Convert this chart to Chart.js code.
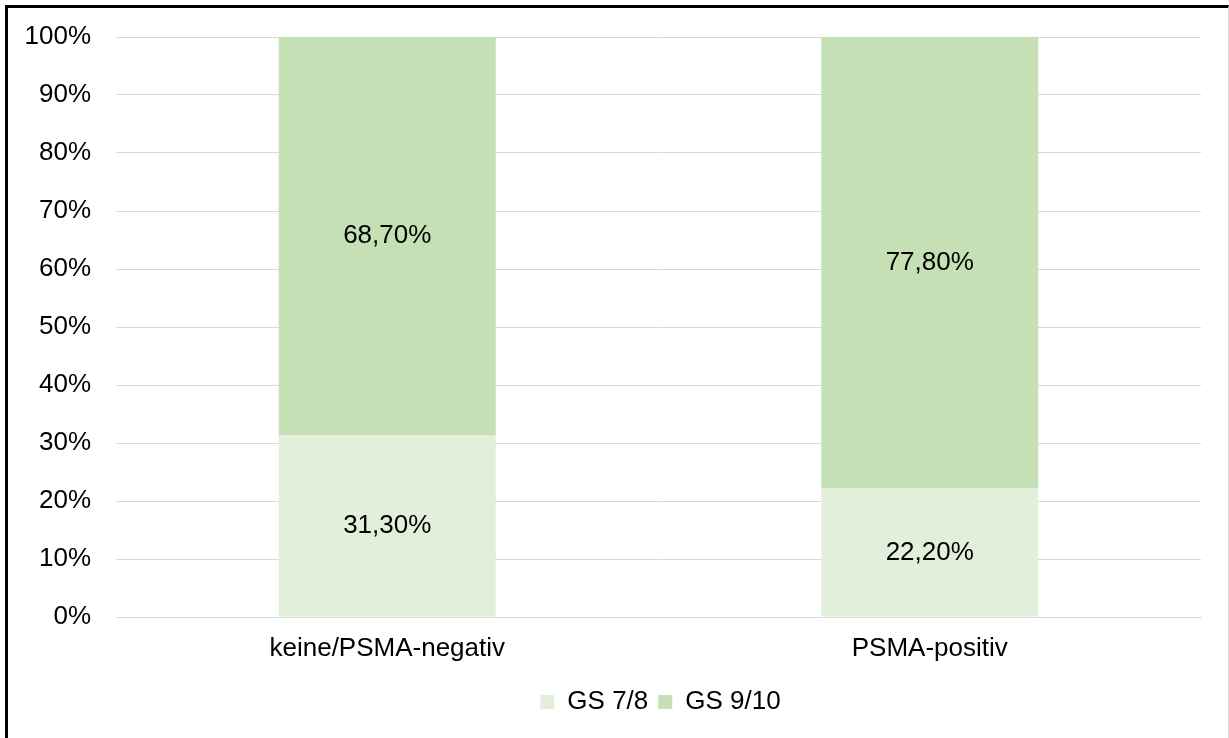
<!DOCTYPE html>
<html>
<head>
<meta charset="utf-8">
<script src="https://cdn.jsdelivr.net/npm/chart.js@4/dist/chart.umd.min.js"></script>
<style>
  html, body { margin: 0; padding: 0; background: #ffffff; }
  #wrap { position: relative; width: 1229px; height: 738px; overflow: hidden; }
  #frame { position: absolute; left: 5px; top: 5px; width: 1220px; height: 760px;
           border-left: 3px solid #000; border-top: 3px solid #000; border-right: 1px solid #d9d9d9;
           pointer-events: none; box-sizing: content-box; }
  canvas { position: absolute; left: 0; top: 0; }
</style>
</head>
<body>
<div id="wrap">
  <canvas id="c" width="1229" height="738"></canvas>
  <div id="frame"></div>
</div>
<script>
const categories = ["keine/PSMA-negativ", "PSMA-positiv"];
const seriesNames = ["GS 7/8", "GS 9/10"];
const gs78 = [31.3, 22.2];
const gs910 = [68.7, 77.8];
const yTicks = [0, 10, 20, 30, 40, 50, 60, 70, 80, 90, 100];

const FONT = { family: "'Liberation Sans', Arial, sans-serif", size: 26 };

const dataLabels = {
  id: 'dataLabels',
  afterDatasetsDraw(chart) {
    const ctx = chart.ctx;
    ctx.save();
    ctx.font = "26px 'Liberation Sans', Arial, sans-serif";
    ctx.fillStyle = '#000000';
    ctx.textAlign = 'center';
    ctx.textBaseline = 'middle';
    chart.data.datasets.forEach((ds, di) => {
      const meta = chart.getDatasetMeta(di);
      meta.data.forEach((el, i) => {
        const v = ds.data[i];
        const txt = v.toFixed(2).replace('.', ',') + '%';
        ctx.fillText(txt, el.x, (el.y + el.base) / 2);
      });
    });
    ctx.restore();
  }
};

// center the legend under the plot area rather than the whole canvas
const legendShift = {
  id: 'legendShift',
  afterLayout(chart) {
    if (chart.legend) { chart.legend.left = 120; }
  }
};

new Chart(document.getElementById('c'), {
  type: 'bar',
  data: {
    labels: categories,
    datasets: [
      { label: seriesNames[0], data: gs78, backgroundColor: '#E2EFDA', borderWidth: 0 },
      { label: seriesNames[1], data: gs910, backgroundColor: '#C5E0B4', borderWidth: 0 }
    ]
  },
  options: {
    responsive: false,
    animation: false,
    devicePixelRatio: 1,
    categoryPercentage: 1.0,
    barPercentage: 0.4,
    layout: { padding: { top: 37, right: 28, bottom: 13, left: 0 } },
    plugins: {
      legend: {
        position: 'bottom',
        labels: {
          font: FONT, color: '#000000', boxWidth: 14, boxHeight: 14, padding: 10
        }
      },
      tooltip: { enabled: false }
    },
    scales: {
      x: {
        stacked: true,
        grid: { display: false, drawTicks: false },
        border: { display: true, color: '#d9d9d9', width: 1 },
        ticks: { font: FONT, color: '#000000', padding: 16 },
        afterFit(axis) { axis.height = 62; }
      },
      y: {
        stacked: true,
        min: 0, max: 100,
        afterBuildTicks(axis) { axis.ticks = yTicks.map(v => ({ value: v })); },
        grid: { color: '#d9d9d9', lineWidth: 1, drawTicks: false },
        border: { display: false },
        ticks: { font: FONT, color: '#000000', padding: 25, callback: v => v + '%' },
        afterFit(axis) { axis.width = 116; axis.paddingTop = 0; axis.paddingBottom = 0; }
      }
    }
  },
  plugins: [dataLabels, legendShift]
});
</script>
</body>
</html>
